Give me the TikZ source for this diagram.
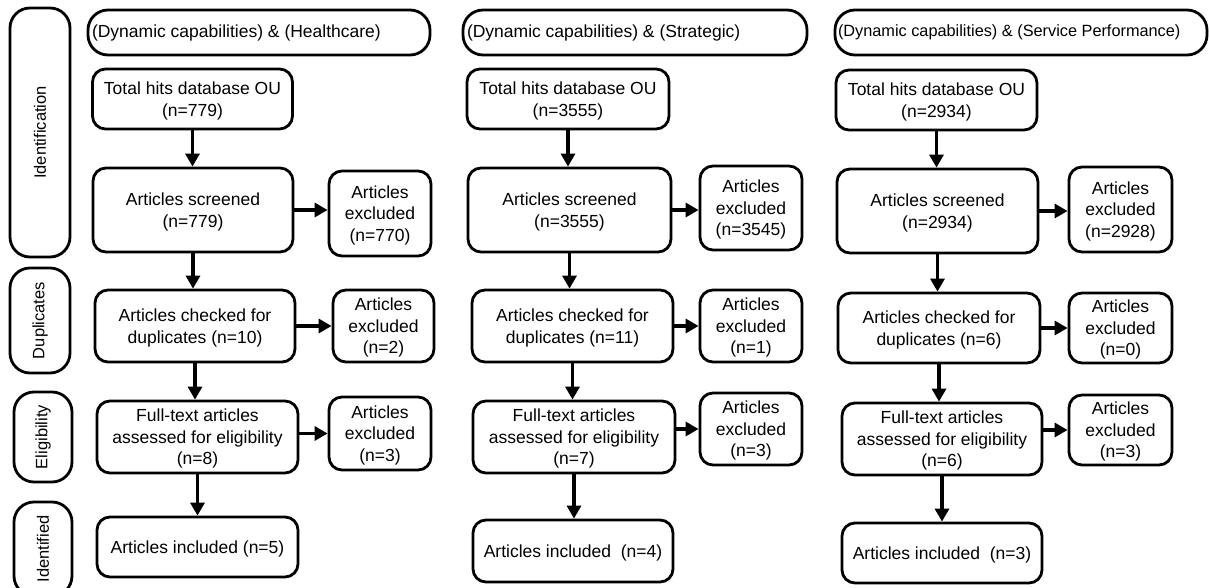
\documentclass[tikz,border=0pt]{standalone}
\usepackage{fontspec}
\setmainfont{Liberation Sans}
\usetikzlibrary{arrows.meta,calc}
\newcommand\mainfs{\fontsize{17.5pt}{21.5pt}\selectfont}
\newcommand\hdrsmallfs{\fontsize{16.3pt}{20pt}\selectfont}
\newcommand\sidefs{\fontsize{16.5pt}{20pt}\selectfont}
\begin{document}
\begin{tikzpicture}[x=1pt,y=-1pt,
  box/.style={draw, line width=2.8pt, rounded corners=13pt, align=center, inner sep=0pt, font=\mainfs, text depth=-2pt},
  hdr/.style={draw, line width=2.8pt, rounded corners=20pt, inner sep=0pt, font=\mainfs, minimum height=45pt},
  side/.style={draw, line width=2.8pt, rounded corners=20pt, align=center, inner sep=0pt, font=\sidefs},
  arr/.style={line width=3.2pt, -{Triangle[length=13pt,width=14pt]}}
]
\useasboundingbox (0,0) rectangle (1210,588);

% side labels
\node[side, minimum width=60pt, minimum height=249pt] (L1) at (40,132.5) {};
\node[rotate=90, font=\sidefs] (L1t) at (L1.center) {Identification};
\node[side, minimum width=60pt, minimum height=105pt] (L2) at (40,320.5) {};
\node[rotate=90, font=\sidefs] (L2t) at (L2.center) {Duplicates};
\node[side, minimum width=58pt, minimum height=90pt] (L3) at (43,437) {};
\node[rotate=90, font=\sidefs] (L3t) at (L3.center) {Eligibility};
\node[side, minimum width=58pt, minimum height=94pt] (L4) at (43,549) {};
\node[rotate=90, font=\sidefs] (L4t) at (L4.center) {Identified};

% column 1
\node[hdr, minimum width=342pt] (h1) at (259,32.5) {\makebox[334pt][l]{(Dynamic capabilities) \& (Healthcare)}};
\node[box, minimum width=200pt, minimum height=60pt] (t1) at (192.5,99) {Total hits database OU\\(n=779)};
\node[box, minimum width=200pt, minimum height=84pt] (s1) at (193,210) {Articles screened\\(n=779)};
\node[box, minimum width=102pt, minimum height=85pt] (e1a) at (380,213.5) {Articles\\excluded\\(n=770)};
\node[box, minimum width=200pt, minimum height=72pt] (c1) at (195,326) {Articles checked for\\duplicates (n=10)};
\node[box, minimum width=101pt, minimum height=72pt] (e1b) at (383.5,326) {Articles\\excluded\\(n=2)};
\node[box, minimum width=201pt, minimum height=72pt] (f1) at (197.5,437) {Full-text articles\\assessed for eligibility\\(n=8)};
\node[box, minimum width=102pt, minimum height=73pt] (e1c) at (380,433.5) {Articles\\excluded\\(n=3)};
\node[box, minimum width=201pt, minimum height=60pt] (i1) at (197.5,547) {Articles included (n=5)};

% column 2
\node[hdr, minimum width=344pt] (h2) at (635,32.5) {\makebox[336pt][l]{(Dynamic capabilities) \& (Strategic)}};
\node[box, minimum width=202pt, minimum height=60pt] (t2) at (568,99) {Total hits database OU\\(n=3555)};
\node[box, minimum width=203pt, minimum height=84pt] (s2) at (569.5,210) {Articles screened\\(n=3555)};
\node[box, minimum width=102pt, minimum height=84pt] (e2a) at (751,208) {Articles\\excluded\\(n=3545)};
\node[box, minimum width=201pt, minimum height=72pt] (c2) at (572.5,326) {Articles checked for\\duplicates (n=11)};
\node[box, minimum width=102pt, minimum height=72pt] (e2b) at (751,326) {Articles\\excluded\\(n=1)};
\node[box, minimum width=202pt, minimum height=72pt] (f2) at (574,437) {Full-text articles\\assessed for eligibility\\(n=7)};
\node[box, minimum width=102pt, minimum height=72pt] (e2c) at (751,429) {Articles\\excluded\\(n=3)};
\node[box, minimum width=200pt, minimum height=62pt] (i2) at (573,551) {Articles included\ \ (n=4)};

% column 3
\node[hdr, minimum width=372pt, font=\hdrsmallfs] (h3) at (1021,32.5) {\makebox[366pt][l]{(Dynamic capabilities) \& (Service Performance)}};
\node[box, minimum width=201pt, minimum height=60pt] (t3) at (936.5,100) {Total hits database OU\\(n=2934)};
\node[box, minimum width=201pt, minimum height=84pt] (s3) at (937.5,211) {Articles screened\\(n=2934)};
\node[box, minimum width=103pt, minimum height=85pt] (e3a) at (1120.5,209.5) {Articles\\excluded\\(n=2928)};
\node[box, minimum width=202pt, minimum height=70pt] (c3) at (939,328) {Articles checked for\\duplicates (n=6)};
\node[box, minimum width=103pt, minimum height=70pt] (e3b) at (1120.5,328) {Articles\\excluded\\(n=0)};
\node[box, minimum width=200pt, minimum height=72pt] (f3) at (942,439) {Full-text articles\\assessed for eligibility\\(n=6)};
\node[box, minimum width=103pt, minimum height=70pt] (e3c) at (1120.5,430) {Articles\\excluded\\(n=3)};
\node[box, minimum width=200pt, minimum height=60pt] (i3) at (942,553) {Articles included\ \ (n=3)};

% arrows
\foreach \c in {1,2,3}{
  \draw[arr] (t\c.south) -- (t\c.south |- s\c.north);
  \draw[arr] (s\c.south) -- (s\c.south |- c\c.north);
  \draw[arr] (c\c.south) -- (c\c.south |- f\c.north);
  \draw[arr] (f\c.south) -- (f\c.south |- i\c.north);
  \draw[arr] (s\c.east) -- (s\c.east -| e\c a.west);
  \draw[arr] (c\c.east) -- (c\c.east -| e\c b.west);
  \draw[arr] (f\c.east |- e\c c.west) -- (e\c c.west);
}
\end{tikzpicture}
\end{document}
